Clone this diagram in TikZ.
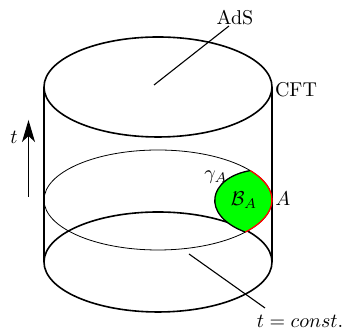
\documentclass[tikz,border=0pt]{standalone}
\usetikzlibrary{arrows.meta}
\begin{document}
\begin{tikzpicture}[x=0.5pt,y=-0.5pt,
  thickline/.style={line width=0.8pt},
  thinline/.style={line width=0.4pt},
  sideline/.style={line width=0.55pt},
  lbl/.style={inner sep=0pt}]
\useasboundingbox (0,0) rectangle (345,330);
% coordinates
\coordinate (topc) at (158,87);
\coordinate (midc) at (158,200);
\coordinate (botc) at (158,262);
\coordinate (tl) at (44,87);
\coordinate (bl) at (44,262);
\coordinate (tr) at (272,87);
\coordinate (br) at (272,262);
% cylinder
\draw[thickline] (topc) ellipse [x radius=57pt, y radius=25pt];
\draw[thickline] (botc) ellipse [x radius=57pt, y radius=25pt];
\draw[thinline] (midc) ellipse [x radius=57pt, y radius=25pt];
\draw[sideline] (tl) -- (bl);
\draw[sideline] (tr) -- (br);
% region B_A
\coordinate (Atop) at (250.2,170.6);
\coordinate (Abot) at (245.3,232.1);
\fill[green] (Atop) arc[start angle=36, end angle=-40, x radius=57pt, y radius=25pt]
  .. controls (200,215) and (208,178) .. (Atop) -- cycle;
\draw[line width=0.65pt] (Abot) .. controls (200,215) and (208,178) .. (Atop);
\draw[red, line width=0.65pt] (Atop) arc[start angle=36, end angle=-40, x radius=57pt, y radius=25pt];
% labels
\node[lbl] (ads) at (235,18) {AdS};
\node[lbl] (cft) at (296,90) {CFT};
\node[lbl] (gam) at (216,177) {$\gamma_A$};
\node[lbl] (ba) at (244,200) {$\mathcal{B}_A$};
\node[lbl] (alab) at (283,199) {$A$};
\node[lbl] (tlab) at (14,137) {$t$};
\node[lbl] (tc) at (300,321) {$t = const.$};
% pointer lines
\coordinate (adsend) at (229,26);
\coordinate (adsin) at (154,85);
\draw[sideline] (adsin) -- (adsend);
\coordinate (tcin) at (189,254);
\coordinate (tcend) at (265,308);
\draw[sideline] (tcin) -- (tcend);
% time arrow
\coordinate (tbot) at (28.5,197);
\coordinate (ttop) at (28.5,120);
\draw[line width=0.6pt, -{Stealth[length=11pt, width=6.5pt, inset=3pt]}] (tbot) -- (ttop);
\end{tikzpicture}
\end{document}
